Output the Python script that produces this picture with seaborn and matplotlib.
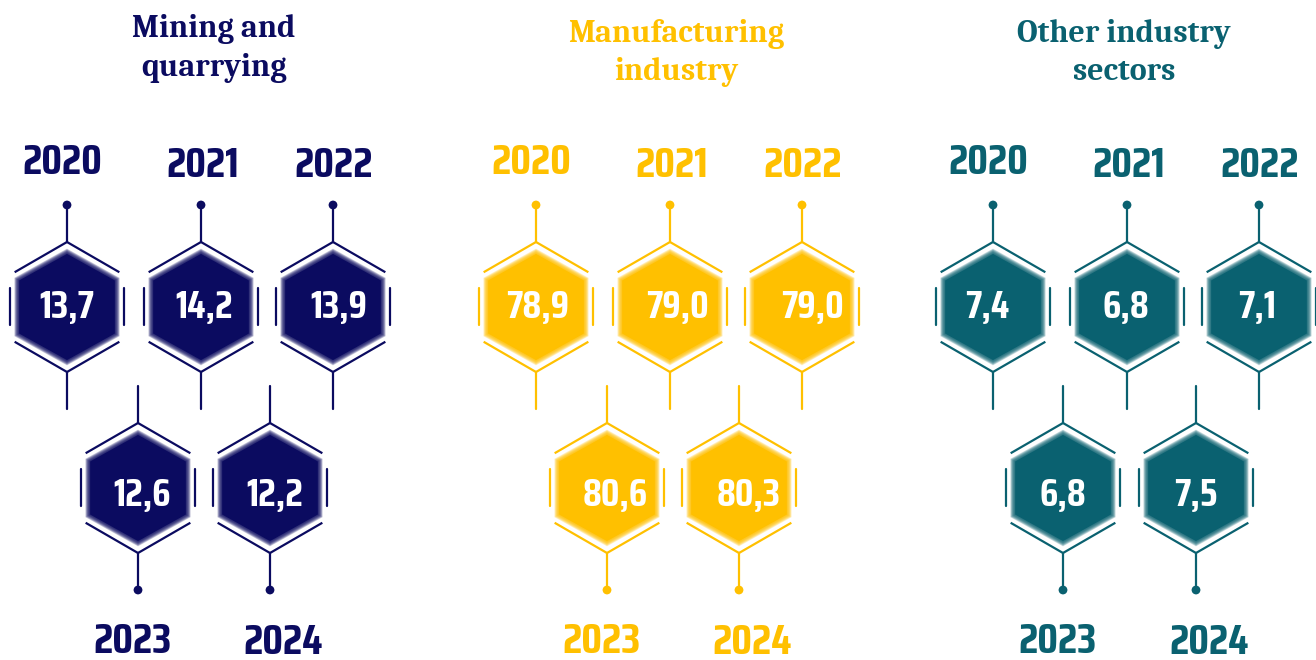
import numpy as np
import pandas as pd
import matplotlib
matplotlib.use("Agg")
import matplotlib.pyplot as plt
from matplotlib.patches import Polygon
import seaborn as sns

# ---------- data ----------
sectors = ["Mining and\nquarrying", "Manufacturing\nindustry", "Other industry\nsectors"]
colors = ["#0b0b60", "#ffc000", "#0a6170"]
years = [2020, 2021, 2022, 2023, 2024]
mining = [13.7, 14.2, 13.9, 12.6, 12.2]
manufacturing = [78.9, 79.0, 79.0, 80.6, 80.3]
other = [7.4, 6.8, 7.1, 6.8, 7.5]
values = [mining, manufacturing, other]

# ---------- layout (pixels) ----------
title_x = [214, 676, 1124]
title_y = [[37, 76], [42, 80], [42, 80]]
hex_x = [[67, 201, 333, 138, 270],
         [536, 670, 802, 607, 739],
         [993, 1127, 1259, 1063, 1196]]
ROW_Y = [307, 307, 307, 488, 488]      # 2020-22 top row, 2023-24 bottom row
YEAR_DX = [-5, 2, 1, -6, 13]           # year label nudges
YEAR_Y = [174, 177, 177, 653, 654]
VAL_DX = [[0, 3, 6, 4, 5], [2, 7, 10, 8, 10], [-6, -1, -2, 0, 0]]
VAL_DY = [11, 11, 11, 18, 18]
R_OUT, R_FILL = 65, 56
STEM = 102

rows = []
for s, name in enumerate(sectors):
    for i, (yr, v) in enumerate(zip(years, values[s])):
        rows.append(dict(sector=name, s=s, i=i, year=yr, value=v, x=hex_x[s][i], y=ROW_Y[i], top=i < 3))
df = pd.DataFrame(rows)

sns.set_theme(style="white")
NUM_FONT = ["Saira Condensed", "Teko", "Fira Sans Condensed", "DejaVu Sans"]
TITLE_FONT = ["Caladea", "Liberation Serif", "DejaVu Serif"]

fig = plt.figure(figsize=(13.16, 6.6), dpi=100)
ax = fig.add_axes([0, 0, 1, 1])

ang = np.deg2rad([90, 30, -30, -90, -150, 150])


def hexpts(cx, cy, r, sx=1.0):
    return np.column_stack([cx + sx * r * np.cos(ang), cy - r * np.sin(ang)])


pal = dict(zip(sectors, colors))
dots = []
for _, r in df.iterrows():
    c = pal[r.sector]; cx, cy = r.x, r.y
    # soft-edged filled hexagon
    ax.add_patch(Polygon(hexpts(cx, cy, R_FILL - 3, 1.04), closed=True, fc=c, ec="none", zorder=2))
    for k in range(10):
        ax.add_patch(Polygon(hexpts(cx, cy, R_FILL - 3 + k * 0.6, 1.04), closed=True,
                             fc=c, ec="none", alpha=0.2, zorder=2))
    # broken outline
    T, UR, LR, B, LL, UL = hexpts(cx, cy, R_OUT)
    f = 0.93
    for a, b in [(T, UR), (T, UL), (B, LR), (B, LL)]:
        e = a + f * (b - a)
        ax.plot([a[0], e[0]], [a[1], e[1]], color=c, lw=1.6, solid_capstyle="butt", zorder=3)
    for sx in (-1, 1):
        ax.plot([cx + sx * 57, cx + sx * 57], [cy - 19, cy + 18], color=c, lw=1.6, zorder=3)
    # stems
    ax.plot([cx, cx], [cy - R_OUT, cy - STEM], color=c, lw=1.6, zorder=3)
    ax.plot([cx, cx], [cy + R_OUT, cy + STEM], color=c, lw=1.6, zorder=3)
    dots.append(dict(sector=r.sector, x=cx, y=cy - STEM if r.top else cy + STEM))
    # value and year
    ax.text(cx + VAL_DX[r.s][r.i], cy + VAL_DY[r.i], f"{r.value:.1f}".replace(".", ","), color="white",
            ha="center", va="baseline", fontsize=28, fontweight="bold", family=NUM_FONT, zorder=4)
    ax.text(cx + YEAR_DX[r.i], YEAR_Y[r.i], str(r.year), color=c, ha="center", va="baseline",
            fontsize=31, fontweight="bold", family=NUM_FONT, zorder=4)

sns.scatterplot(data=pd.DataFrame(dots), x="x", y="y", hue="sector", palette=pal, s=40,
                linewidth=0, legend=False, ax=ax, zorder=4)
ax.set_xlim(0, 1316); ax.set_ylim(660, 0); ax.set_aspect("equal"); ax.axis("off")

for s, name in enumerate(sectors):
    for ln, yy in zip(name.split("\n"), title_y[s]):
        ax.text(title_x[s], yy, ln, color=colors[s], ha="center", va="baseline",
                fontsize=23, fontweight="bold", family=TITLE_FONT)

fig.savefig("out.png", dpi=100, facecolor="white")
